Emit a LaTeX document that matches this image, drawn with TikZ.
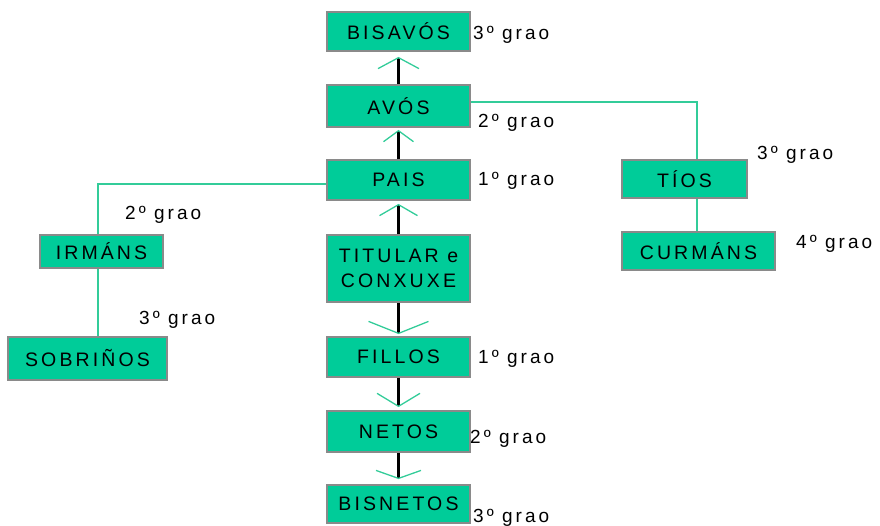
\documentclass[tikz,border=0pt]{standalone}
\usepackage{fontspec}
\setmainfont{Liberation Sans}
\newfontfamily\boxfont[LetterSpace=16]{Liberation Sans}
\usetikzlibrary{arrows.meta}
\definecolor{boxfill}{HTML}{00CC99}
\definecolor{boxedge}{HTML}{8A8A8A}
\definecolor{tealline}{HTML}{33CC99}
\tikzset{
  famboxstyle/.style={draw=boxedge, line width=1.8pt, fill=boxfill, rectangle, inner sep=0pt,
    font=\boxfont\fontsize{19.5}{25}\selectfont, align=center, text=black},
  gradestyle/.style={anchor=west, inner sep=0pt, font=\boxfont\fontsize{19}{20}\selectfont},
  mainline/.style={draw=black, line width=2.2pt},
  sideline/.style={draw=tealline, line width=1.8pt},
}
\begin{document}
\begin{tikzpicture}[x=1pt,y=-1pt]
\useasboundingbox (0,0) rectangle (880,526);
% central column
\node[famboxstyle, minimum width=143pt, minimum height=39pt] (bisavos) at (398.5,31.5) {BISAVÓS};
\node[famboxstyle, minimum width=143pt, minimum height=42pt] (avos) at (398.5,106) {AVÓS};
\node[famboxstyle, minimum width=143pt, minimum height=40pt] (pais) at (398.5,180) {PAIS};
\node[famboxstyle, minimum width=143pt, minimum height=67pt] (titular) at (398.5,268.5) {TITULAR e\\CONXUXE};
\node[famboxstyle, minimum width=143pt, minimum height=40pt] (fillos) at (398.5,357) {FILLOS};
\node[famboxstyle, minimum width=143pt, minimum height=41pt] (netos) at (398.5,431.5) {NETOS};
\node[famboxstyle, minimum width=143pt, minimum height=38pt] (bisnetos) at (398.5,504) {BISNETOS};
% left branch
\node[famboxstyle, minimum width=123pt, minimum height=33pt] (irmans) at (101.5,251.5) {IRMÁNS};
\node[famboxstyle, minimum width=159pt, minimum height=43pt] (sobrinos) at (87.5,358.5) {SOBRIÑOS};
% right branch
\node[famboxstyle, minimum width=125pt, minimum height=38pt] (tios) at (684.5,179) {TÍOS};
\node[famboxstyle, minimum width=153pt, minimum height=38pt] (curmans) at (698.5,251) {CURMÁNS};

% connectors: central column
\draw[mainline, -{Straight Barb[color=tealline, length=11pt, width=41pt, line width=1.3pt]}, shorten >=5pt] (avos) -- (bisavos);
\draw[mainline, -{Straight Barb[color=tealline, length=11pt, width=30pt, line width=1.3pt]}, shorten >=2pt] (pais) -- (avos);
\draw[mainline, -{Straight Barb[color=tealline, length=11pt, width=38pt, line width=1.3pt]}, shorten >=3pt] (titular) -- (pais);
\draw[mainline, -{Straight Barb[color=tealline, length=12pt, width=60pt, line width=1.3pt]}, shorten >=2pt] (titular) -- (fillos);
\draw[mainline, -{Straight Barb[color=tealline, length=13pt, width=43pt, line width=1.3pt]}, shorten >=3pt] (fillos) -- (netos);
\draw[mainline, -{Straight Barb[color=tealline, length=8pt, width=45pt, line width=1.3pt]}, shorten >=5pt] (netos) -- (bisnetos);
% side branches
\coordinate (lcorner) at (98,184);
\coordinate (rcorner) at (697,102);
\draw[sideline] ([yshift=-4pt]pais.west) -- (lcorner) -- (lcorner |- irmans.north);
\draw[sideline] (lcorner |- irmans.south) -- (lcorner |- sobrinos.north);
\draw[sideline] ([yshift=4pt]avos.east) -- (rcorner) -- (rcorner |- tios.north);
\draw[sideline] (rcorner |- tios.south) -- (rcorner |- curmans.north);

% degree labels
\node[gradestyle] (gbisavos) at (473,35) {3º grao};
\node[gradestyle] (gavos) at (478,123) {2º grao};
\node[gradestyle] (gpais) at (478,181) {1º grao};
\node[gradestyle] (gfillos) at (478,359) {1º grao};
\node[gradestyle] (gnetos) at (470,439) {2º grao};
\node[gradestyle] (gbisnetos) at (473,518) {3º grao};
\node[gradestyle] (girmans) at (125,215) {2º grao};
\node[gradestyle] (gsobrinos) at (139,320) {3º grao};
\node[gradestyle] (gtios) at (757,155) {3º grao};
\node[gradestyle] (gcurmans) at (796,244) {4º grao};
\end{tikzpicture}
\end{document}
